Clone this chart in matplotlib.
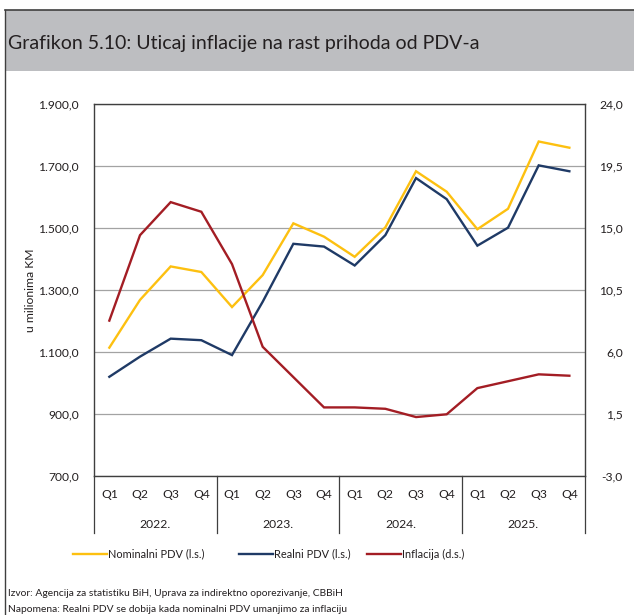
import matplotlib.pyplot as plt
import matplotlib.transforms as mtransforms
from matplotlib.lines import Line2D

plt.rcParams["font.family"] = ["Lato", "DejaVu Sans"]

# Kvartali i godine
quarters = ["Q1", "Q2", "Q3", "Q4"] * 4
years = ["2022.", "2023.", "2024.", "2025."]

# PDV u milionima KM (lijeva skala), inflacija u % (desna skala)
nominalni_pdv = [1115, 1269, 1377, 1359, 1246, 1349, 1516, 1473,
                 1408, 1503, 1684, 1618, 1497, 1563, 1780, 1760]
realni_pdv = [1021, 1086, 1144, 1139, 1091, 1263, 1450, 1441,
              1380, 1478, 1662, 1594, 1444, 1502, 1703, 1684]
inflacija = [8.3, 14.5, 16.9, 16.2, 12.4, 6.4, 4.2, 2.0,
             2.0, 1.9, 1.3, 1.5, 3.4, 3.9, 4.4, 4.3]

left_ticks = [700, 900, 1100, 1300, 1500, 1700, 1900]
right_ticks = [-3.0, 1.5, 6.0, 10.5, 15.0, 19.5, 24.0]

C_NOM = "#FDC010"
C_REAL = "#1F3A66"
C_INF = "#A31D24"
FRAME = "#3f3f3f"
TXT = "#231f20"

W, H = 634, 615
fig = plt.figure(figsize=(W / 100, H / 100), dpi=100)


def px(x0, y0, x1, y1):
    return [x0 / W, 1 - y1 / H, (x1 - x0) / W, (y1 - y0) / H]


# okvir i zaglavlje
hdr = fig.add_axes(px(5, 10, 634, 71))
hdr.set_facecolor("#bdbec1")
hdr.set_xticks([])
hdr.set_yticks([])
for s in hdr.spines.values():
    s.set_visible(False)
fig.add_artist(Line2D([5 / W, 1], [1 - 10 / H] * 2, color=FRAME, lw=1.2))
fig.add_artist(Line2D([5 / W] * 2, [0, 1 - 10 / H], color=FRAME, lw=1.0))
fig.text(8 / W, 1 - 43 / H, "Grafikon 5.10: Uticaj inflacije na rast prihoda od PDV-a",
         fontsize=14, color=TXT, va="center", ha="left")

ax = fig.add_axes(px(94, 104.3, 584.7, 476.3))
x = list(range(len(nominalni_pdv)))

ax.plot(x, nominalni_pdv, color=C_NOM, lw=1.7, solid_joinstyle="miter", zorder=3)
ax.plot(x, realni_pdv, color=C_REAL, lw=1.7, solid_joinstyle="miter", zorder=3)
ax.set_xlim(-0.5, 15.5)
ax.set_ylim(700, 1900)
ax.set_yticks(left_ticks)
ax.set_yticklabels([f"{v:,.1f}".replace(",", "X").replace(".", ",").replace("X", ".")
                    for v in left_ticks])
ax.grid(axis="y", color="#a3a3a3", lw=0.9)
ax.set_axisbelow(True)
ax.tick_params(axis="y", length=0, pad=11, labelsize=8.7, labelcolor=TXT)
ax.set_ylabel("u milionima KM", fontsize=8.7, color=TXT, va="center")
ax.yaxis.set_label_coords((31 - 94) / 490.7, 0.5)

ax.set_xticks(x)
ax.set_xticklabels(quarters)
ax.tick_params(axis="x", length=0, pad=9, labelsize=8.7, labelcolor=TXT)
for s in ax.spines.values():
    s.set_color(FRAME)
    s.set_linewidth(1.0)

ax2 = ax.twinx()
ax2.plot(x, inflacija, color=C_INF, lw=1.7, solid_joinstyle="miter", zorder=3)
ax2.set_ylim(-3, 24)
ax2.set_yticks(right_ticks)
ax2.set_yticklabels([f"{v:.1f}".replace(".", ",") for v in right_ticks])
ax2.tick_params(axis="y", length=0, pad=27.5, labelsize=8.7, labelcolor=TXT)
for lbl in ax2.get_yticklabels():
    lbl.set_horizontalalignment("right")
for s in ax2.spines.values():
    s.set_visible(False)

# razdjelnici godina ispod ose
trans = mtransforms.blended_transform_factory(ax.transData, ax.transAxes)
drop = -(533 - 476.3) / (476.3 - 104.3)
for b in [-0.5, 3.5, 7.5, 11.5, 15.5]:
    ax.add_line(Line2D([b, b], [0, drop], transform=trans, color=FRAME,
                       lw=0.9, clip_on=False))
for i, yr in enumerate(years):
    ax.text(4 * i + 1.5, -(524 - 476.3) / 372, yr, transform=trans,
            ha="center", va="center", fontsize=8.7, color=TXT)

# legenda: linija + tekst za svaku seriju
legend_items = [(73, C_NOM, "Nominalni PDV (l.s.)"),
                (239, C_REAL, "Realni PDV (l.s.)"),
                (367, C_INF, "Inflacija (d.s.)")]
ly = 1 - 554 / H
for x0, col, label in legend_items:
    fig.add_artist(Line2D([x0 / W, (x0 + 34) / W], [ly, ly], color=col, lw=1.7))
    fig.text((x0 + 35) / W, ly, label, fontsize=7.9, color=TXT, va="center")

fig.text(8 / W, 1 - 594 / H,
         "Izvor: Agencija za statistiku BiH, Uprava za indirektno oporezivanje, CBBiH",
         fontsize=7.35, color=TXT, va="center")
fig.text(8 / W, 1 - 609 / H,
         "Napomena: Realni PDV se dobija kada nominalni PDV umanjimo za inflaciju",
         fontsize=7.35, color=TXT, va="center")

fig.savefig("out.png", dpi=100)
